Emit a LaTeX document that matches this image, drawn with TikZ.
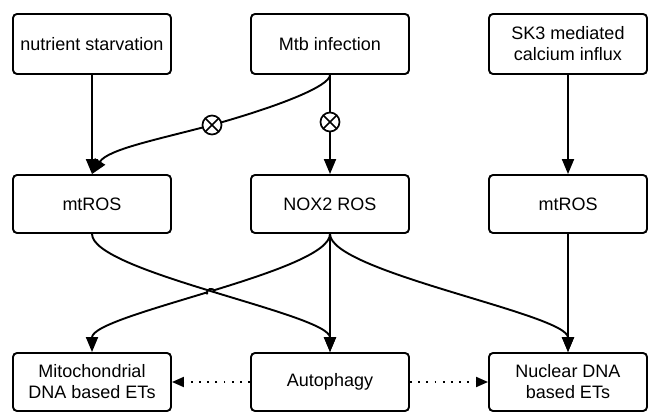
\documentclass[tikz,border=0pt]{standalone}
\usepackage{fontspec}
\setmainfont{Liberation Sans}
\usetikzlibrary{arrows.meta,calc}
\begin{document}
\begin{tikzpicture}[x=1pt,y=1pt,
  box/.style={draw, line width=1.9pt, rounded corners=4pt, minimum width=158pt, inner sep=0pt, align=center, font=\fontsize{18}{21}\selectfont},
  tbox/.style={box, minimum height=60pt},
  mbox/.style={box, minimum height=58pt},
  link/.style={line width=1.9pt, -{Triangle[length=15pt,width=12pt]}},
  dotlink/.style={line width=1.9pt, dash pattern=on 1.9pt off 6.3pt, -{Triangle[length=12pt,width=10pt]}},
  cx/.style={circle, draw, line width=1.7pt, fill=white, minimum size=19pt, inner sep=0pt,
    path picture={\draw[line width=1.6pt] (path picture bounding box.north west) -- (path picture bounding box.south east)
      (path picture bounding box.north east) -- (path picture bounding box.south west);}}
]
\useasboundingbox (0,0) rectangle (648,412);

\node[tbox] (ns) at (92,368) {nutrient starvation};
\node[tbox] (mtb) at (330,368) {Mtb infection};
\node[tbox] (sk3) at (568,368) {SK3 mediated\\calcium influx};
\node[mbox] (m1) at (92,208) {mtROS};
\node[mbox] (nox) at (330,208) {NOX2 ROS};
\node[mbox] (m3) at (568,208) {mtROS};
\node[mbox] (mito) at (92,30) {Mitochondrial\\DNA based ETs};
\node[mbox] (auto) at (330,30) {Autophagy};
\node[mbox] (nuc) at (568,30) {Nuclear DNA\\based ETs};

\coordinate (x1c) at (212,287);
\coordinate (x2c) at (330,290);

\draw[link] (ns.south) -- (m1.north);
\draw[link] (mtb.south) -- (nox.north);
\draw[link] (mtb.south) .. controls +(0,-11) and (280,306) .. (x1c) .. controls (160,273) and +(16,25) .. (m1.north);
\draw[link] (sk3.south) -- (m3.north);
\draw[link] (m3.south) -- (nuc.north);
\draw[link] (nox.south) -- (auto.north);
\draw[link] (nox.south) .. controls +(0,-38) and +(0,38) .. (nuc.north);
\draw[link] (nox.south) .. controls +(0,-38) and +(0,38) .. (mito.north);
\coordinate (cr) at ($(nox.south)!0.5!(mito.north)$);
\fill[white] (cr) circle (4.2);
\draw[link] (m1.south) .. controls +(0,-38) and +(0,38) .. (auto.north);
\draw[line width=1.9pt] ($(cr)+(198.9:4.2)$) arc[start angle=198.9, end angle=18.9, radius=4.2pt];

\draw[dotlink] (auto.west) -- (mito.east);
\draw[dotlink] (auto.east) -- (nuc.west);

\node[cx] (x1) at (x1c) {};
\node[cx] (x2) at (x2c) {};
\end{tikzpicture}
\end{document}
